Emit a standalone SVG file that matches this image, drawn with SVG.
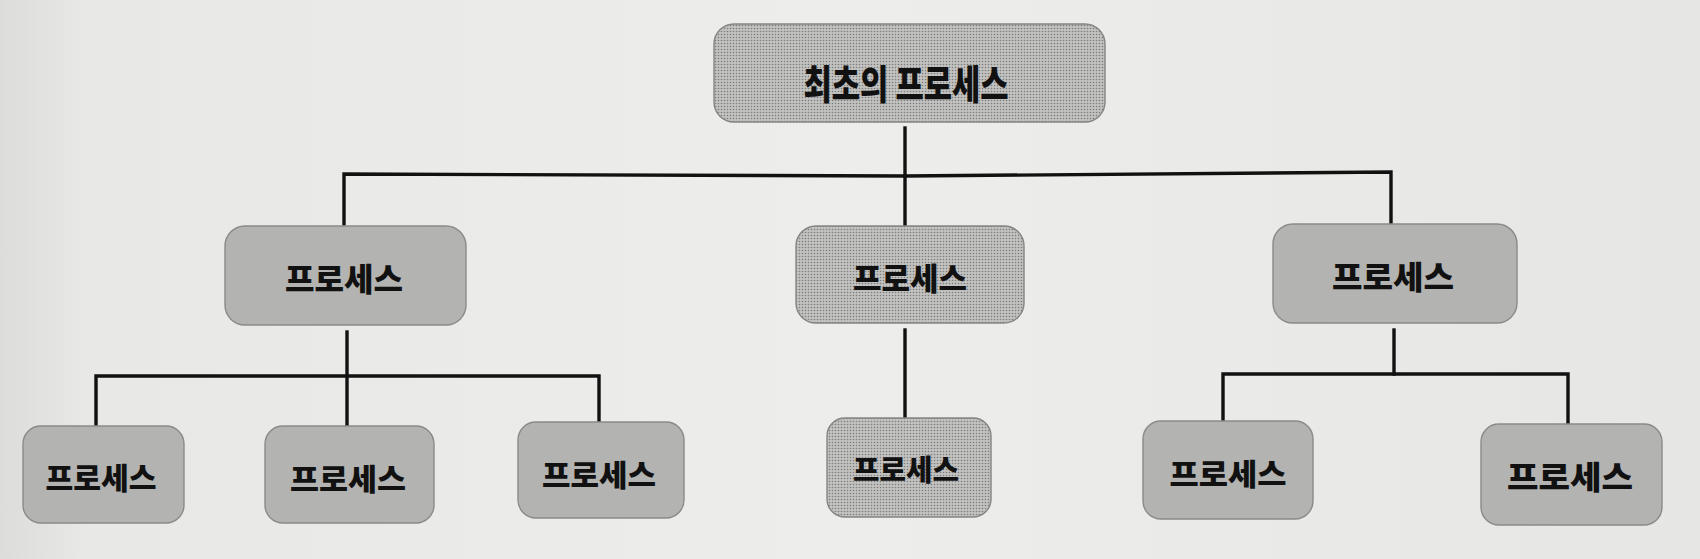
<svg xmlns="http://www.w3.org/2000/svg" width="1700" height="559" viewBox="0 0 1700 559">
  <defs>
    <linearGradient id="page" x1="0" y1="0" x2="1" y2="0">
      <stop offset="0" stop-color="#dcdcda"/>
      <stop offset="0.05" stop-color="#e8e8e6"/>
      <stop offset="0.5" stop-color="#ededeb"/>
      <stop offset="1" stop-color="#e6e6e4"/>
    </linearGradient>
    <pattern id="dots" width="3" height="3" patternUnits="userSpaceOnUse">
      <rect width="3" height="3" fill="#c2c2c0"/>
      <circle cx="1.5" cy="1.5" r="0.8" fill="#7c7c7c"/>
    </pattern>
    <style>
      .solid { fill: #b3b3b2; stroke: #8a8a8a; stroke-width: 1.4; }
      .tone { fill: url(#dots); stroke: #858585; stroke-width: 1.4; }
      .lbl { font-family: "Noto Sans CJK KR", "Noto Sans", sans-serif; font-weight: 900; fill: #111; text-anchor: middle; dominant-baseline: central; }
      .wire { fill: none; stroke: #111; stroke-width: 3.4; stroke-linecap: square; }
    </style>
  </defs>
  <rect width="1700" height="559" fill="url(#page)"/>

  <g id="connectors" class="wire">
    <path d="M905 128 V225"/>
    <path d="M344 224 V174 L905 176 L1391 172 V223"/>
    <path d="M347 332 V426"/>
    <path d="M96 426 V376 H599 V422"/>
    <path d="M905 330 V418"/>
    <path d="M1394 330 V374"/>
    <path d="M1223 421 V374 H1568 V424"/>
  </g>

  <g id="root">
    <rect class="tone" x="714" y="24" width="391" height="98" rx="20"/>
    <text class="lbl" x="906" y="82" font-size="40" textLength="205" lengthAdjust="spacingAndGlyphs">최초의 프로세스</text>
  </g>

  <g id="p-left">
    <rect class="solid" x="225" y="226" width="241" height="99" rx="20"/>
    <text class="lbl" x="344" y="277" font-size="32" textLength="118" lengthAdjust="spacingAndGlyphs">프로세스</text>
  </g>
  <g id="p-center">
    <rect class="tone" x="796" y="226" width="228" height="97" rx="20"/>
    <text class="lbl" x="910" y="276" font-size="31" textLength="114" lengthAdjust="spacingAndGlyphs">프로세스</text>
  </g>
  <g id="p-right">
    <rect class="solid" x="1273" y="224" width="244" height="99" rx="20"/>
    <text class="lbl" x="1393" y="275" font-size="32" textLength="122" lengthAdjust="spacingAndGlyphs">프로세스</text>
  </g>

  <g id="c-l1">
    <rect class="solid" x="23" y="426" width="161" height="97" rx="18"/>
    <text class="lbl" x="101" y="476" font-size="30" textLength="111" lengthAdjust="spacingAndGlyphs">프로세스</text>
  </g>
  <g id="c-l2">
    <rect class="solid" x="265" y="426" width="169" height="97" rx="18"/>
    <text class="lbl" x="348" y="477" font-size="30" textLength="116" lengthAdjust="spacingAndGlyphs">프로세스</text>
  </g>
  <g id="c-l3">
    <rect class="solid" x="518" y="422" width="166" height="96" rx="18"/>
    <text class="lbl" x="599" y="473" font-size="30" textLength="114" lengthAdjust="spacingAndGlyphs">프로세스</text>
  </g>
  <g id="c-c1">
    <rect class="tone" x="827" y="418" width="164" height="99" rx="18"/>
    <text class="lbl" x="906" y="468" font-size="29" textLength="106" lengthAdjust="spacingAndGlyphs">프로세스</text>
  </g>
  <g id="c-r1">
    <rect class="solid" x="1143" y="421" width="170" height="98" rx="18"/>
    <text class="lbl" x="1228" y="472" font-size="30" textLength="117" lengthAdjust="spacingAndGlyphs">프로세스</text>
  </g>
  <g id="c-r2">
    <rect class="solid" x="1481" y="424" width="181" height="101" rx="18"/>
    <text class="lbl" x="1570" y="475" font-size="32" textLength="126" lengthAdjust="spacingAndGlyphs">프로세스</text>
  </g>
</svg>
